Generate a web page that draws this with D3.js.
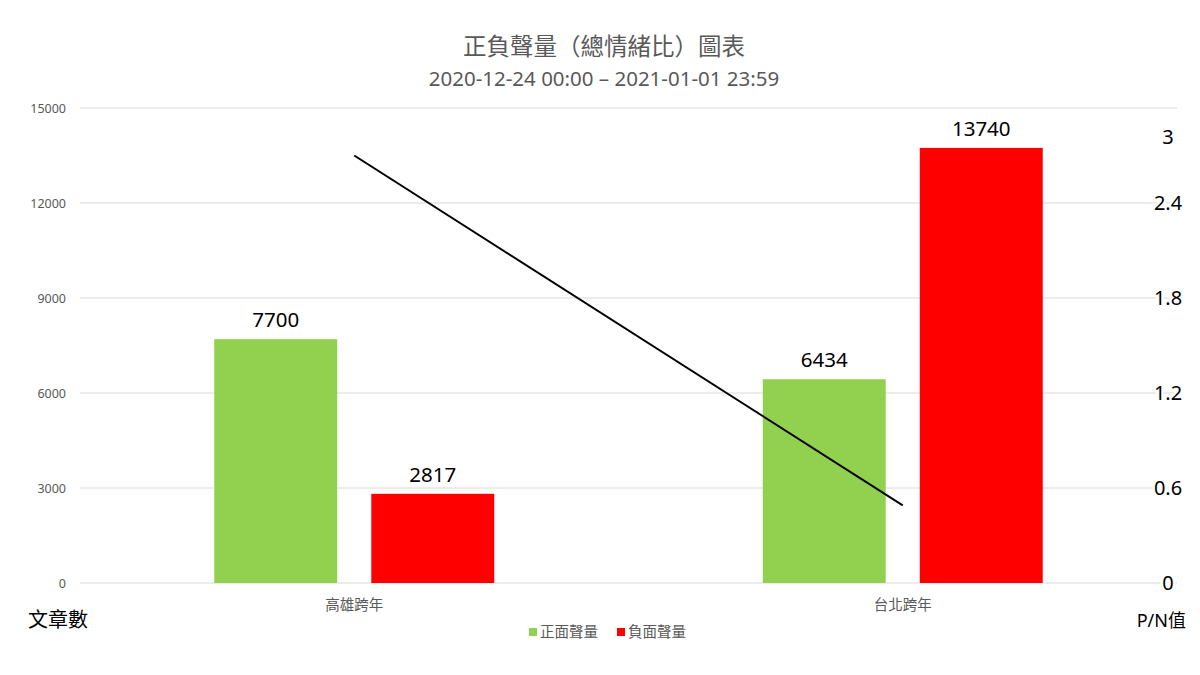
<!doctype html>
<html>
<head>
<meta charset="utf-8">
<title>正負聲量（總情緒比）圖表</title>
<script src="https://cdnjs.cloudflare.com/ajax/libs/d3/7.8.5/d3.min.js"></script>
<style>
body { margin: 0; background: #fff; font-family: "Noto Sans", "Noto Sans CJK TC", sans-serif; }
text { font-family: "Noto Sans", "Noto Sans CJK TC", sans-serif; }
</style>
</head>
<body>
<div id="chart"></div>
<script>
// data
var categories = ["高雄跨年", "台北跨年"];
var seriesNames = ["正面聲量", "負面聲量"];
var positive = [7700, 6434];
var negative = [2817, 13740];
var pnRatio = [2.70, 0.49];
var leftTicks = [0, 3000, 6000, 9000, 12000, 15000];
var rightTicks = [0, 0.6, 1.2, 1.8, 2.4, 3];
var colors = ["#92d050", "#ff0000"];

var width = 1200, height = 675;
var margin = {top: 108, right: 23, bottom: 92, left: 80};
var plotW = width - margin.left - margin.right;
var plotH = height - margin.top - margin.bottom;

var svg = d3.select("#chart").append("svg")
  .attr("width", width).attr("height", height);

// title
svg.append("text").attr("x", 604).attr("y", 55)
  .attr("text-anchor", "middle").attr("fill", "#595959")
  .style("font-size", "23.5px").text("正負聲量（總情緒比）圖表");
svg.append("text").attr("x", 604).attr("y", 86)
  .attr("text-anchor", "middle").attr("fill", "#595959")
  .style("font-size", "20.5px").text("2020-12-24 00:00 – 2021-01-01 23:59");

var g = svg.append("g").attr("transform", "translate(" + margin.left + "," + margin.top + ")");

var x0 = d3.scaleBand().domain(categories).range([0, plotW]);
var x1 = d3.scaleBand().domain(seriesNames).range([0, x0.bandwidth()])
  .paddingInner(0.217).paddingOuter(0.855);
var yL = d3.scaleLinear().domain([0, 15000]).range([plotH, 0]);
var yR = d3.scaleLinear().domain([0, 3]).range([plotH, 0]);

// gridlines
g.append("g").selectAll("line").data(leftTicks).enter().append("line")
  .attr("x1", 0).attr("x2", plotW)
  .attr("y1", function(d){ return yL(d); }).attr("y2", function(d){ return yL(d); })
  .attr("stroke", "#d9d9d9").attr("stroke-width", 1);

// left axis
var axL = g.append("g").call(d3.axisLeft(yL).tickValues(leftTicks)
  .tickFormat(d3.format("d")).tickSize(0).tickPadding(14));
axL.select(".domain").remove();
axL.selectAll("text").attr("fill", "#595959").style("font-size", "12.5px");

// bars
var rows = categories.map(function(c, i){
  return {cat: c, vals: [positive[i], negative[i]]};
});
var groups = g.selectAll(".grp").data(rows).enter().append("g")
  .attr("class", "grp")
  .attr("transform", function(d){ return "translate(" + x0(d.cat) + ",0)"; });

groups.selectAll("rect").data(function(d){
    return d.vals.map(function(v, j){ return {name: seriesNames[j], v: v, j: j}; });
  }).enter().append("rect")
  .attr("x", function(d){ return x1(d.name); })
  .attr("width", x1.bandwidth())
  .attr("y", function(d){ return yL(d.v); })
  .attr("height", function(d){ return plotH - yL(d.v); })
  .attr("fill", function(d){ return colors[d.j]; });

groups.selectAll(".lbl").data(function(d){
    return d.vals.map(function(v, j){ return {name: seriesNames[j], v: v}; });
  }).enter().append("text")
  .attr("class", "lbl")
  .attr("x", function(d){ return x1(d.name) + x1.bandwidth() / 2; })
  .attr("y", function(d){ return yL(d.v) - 12; })
  .attr("text-anchor", "middle").attr("fill", "#000")
  .style("font-size", "20.5px")
  .text(function(d){ return d.v; });

// category labels
g.selectAll(".cat").data(categories).enter().append("text")
  .attr("class", "cat")
  .attr("x", function(d){ return x0(d) + x0.bandwidth() / 2; })
  .attr("y", plotH + 27)
  .attr("text-anchor", "middle").attr("fill", "#595959")
  .style("font-size", "14.5px").text(function(d){ return d; });

// P/N line on right axis
var line = d3.line()
  .x(function(d, i){ return x0(categories[i]) + x0.bandwidth() / 2; })
  .y(function(d){ return yR(d); });
g.append("path").datum(pnRatio)
  .attr("d", line).attr("fill", "none")
  .attr("stroke", "#000").attr("stroke-width", 2);

// right axis labels, drawn over the gridline ends
var axR = g.append("g").attr("transform", "translate(" + (plotW - 9) + ",0)")
  .call(d3.axisRight(yR).tickValues(rightTicks).tickFormat(d3.format("~g"))
    .tickSize(0).tickPadding(0));
axR.select(".domain").remove();
axR.selectAll("text")
  .attr("text-anchor", "middle").attr("fill", "#000")
  .style("font-size", "20px")
  .attr("dy", function(d){ return d === 3 ? "1.75em" : "0.32em"; })
  .attr("stroke", "#fff").attr("stroke-width", 5).attr("paint-order", "stroke");

// axis titles
svg.append("text").attr("x", 28).attr("y", 627)
  .attr("fill", "#000").style("font-size", "20px").text("文章數");
svg.append("text").attr("x", 1186).attr("y", 627)
  .attr("text-anchor", "end").attr("fill", "#000")
  .style("font-size", "18px").text("P/N值");

// legend
var legend = svg.append("g").attr("transform", "translate(529,637)");
var legX = [0, 88];
seriesNames.forEach(function(s, i){
  legend.append("rect").attr("x", legX[i]).attr("y", -9)
    .attr("width", 8).attr("height", 8).attr("fill", colors[i]);
  legend.append("text").attr("x", legX[i] + 11).attr("y", 0)
    .attr("fill", "#595959").style("font-size", "14.5px").text(s);
});
</script>
</body>
</html>
